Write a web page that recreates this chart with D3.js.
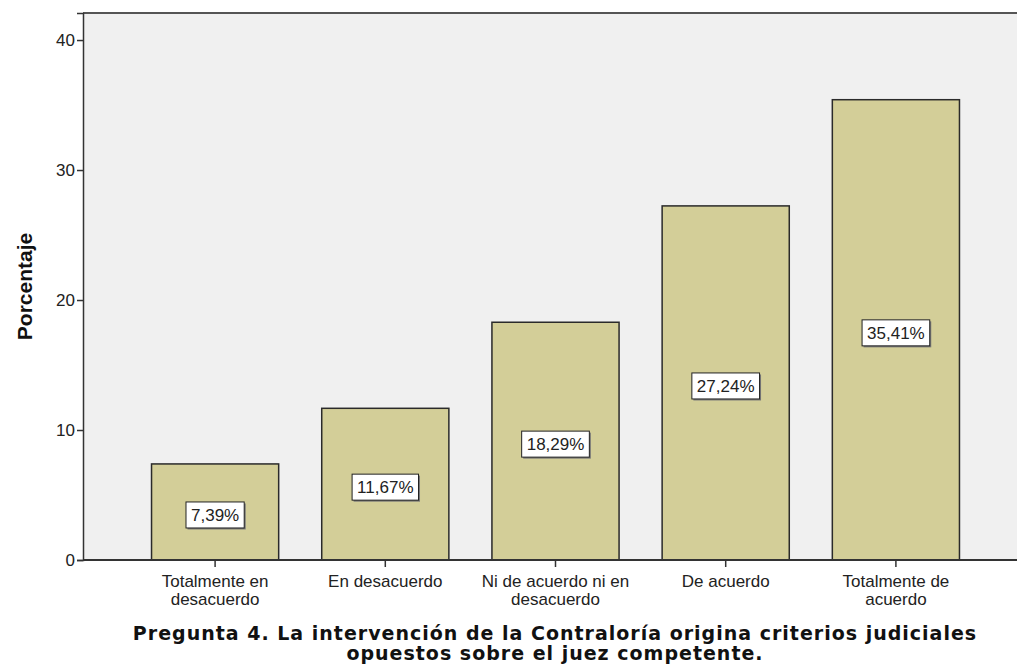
<!DOCTYPE html>
<html lang="es">
<head>
<meta charset="utf-8">
<title>Pregunta 4</title>
<script src="https://cdn.jsdelivr.net/npm/d3@7"></script>
<style>
  body { margin: 0; background: #fff; }
  .tick text { font-family: "Liberation Sans", Arial, sans-serif; font-size: 17px; fill: #222; }
</style>
</head>
<body>
<div id="chart"></div>
<script>
// datos
var categorias = [["Totalmente en", "desacuerdo"], ["En desacuerdo"], ["Ni de acuerdo ni en", "desacuerdo"], ["De acuerdo"], ["Totalmente de", "acuerdo"]];
var porcentajes = [7.39, 11.67, 18.29, 27.24, 35.41];
var etiquetas = ["7,39%", "11,67%", "18,29%", "27,24%", "35,41%"];
var yTicks = [0, 10, 20, 30, 40];
var titulo = ["Pregunta 4. La intervención de la Contraloría origina criterios judiciales", "opuestos sobre el juez competente."];

var width = 1017, height = 667;
var mLeft = 83, mRight = 1017, mTop = 13, mBottom = 560;

var svg = d3.select("#chart").append("svg")
    .attr("width", width)
    .attr("height", height);

var x = d3.scaleBand()
    .domain(d3.range(porcentajes.length))
    .range([130, 981])
    .paddingInner(0.253)
    .paddingOuter(0.1265);

var y = d3.scaleLinear()
    .domain([0, 42.08])
    .range([mBottom, mTop]);

// fondo del area
svg.append("rect")
    .attr("x", mLeft).attr("y", mTop)
    .attr("width", mRight - mLeft).attr("height", mBottom - mTop)
    .attr("fill", "#f0f0f0");

svg.append("line")
    .attr("x1", mLeft).attr("x2", mRight)
    .attr("y1", mTop).attr("y2", mTop)
    .attr("stroke", "#555").attr("stroke-width", 2);

// barras
svg.append("g").selectAll("rect")
    .data(porcentajes)
  .enter().append("rect")
    .attr("x", function(d, i) { return x(i); })
    .attr("y", function(d) { return y(d); })
    .attr("width", x.bandwidth())
    .attr("height", function(d) { return y(0) - y(d); })
    .attr("fill", "#d3ce98")
    .attr("stroke", "#2a2a2a")
    .attr("stroke-width", 1.5);

// eje y
var gy = svg.append("g")
    .attr("transform", "translate(" + mLeft + ",0)")
    .call(d3.axisLeft(y).tickValues(yTicks).tickSize(6).tickPadding(2));
gy.select(".domain").attr("stroke", "#333").attr("stroke-width", 1.5);
gy.selectAll(".tick line").attr("stroke", "#333").attr("stroke-width", 1.5);

// eje x
var gx = svg.append("g")
    .attr("transform", "translate(0," + mBottom + ")")
    .call(d3.axisBottom(x).tickSize(7).tickFormat(""));
gx.select(".domain").remove();
gx.selectAll(".tick line").attr("stroke", "#333").attr("stroke-width", 1.5);

svg.append("line")
    .attr("x1", mLeft).attr("x2", mRight)
    .attr("y1", mBottom).attr("y2", mBottom)
    .attr("stroke", "#333").attr("stroke-width", 2);

gx.selectAll(".tick").each(function(d) {
  var t = d3.select(this).append("text")
      .attr("text-anchor", "middle")
      .attr("y", 27)
      .style("font-family", "'Liberation Sans', Arial, sans-serif")
      .style("font-size", "17px")
      .attr("fill", "#222");
  categorias[d].forEach(function(line, k) {
    t.append("tspan").attr("x", 0).attr("dy", k ? 17.5 : 0).text(line);
  });
});

// etiquetas de porcentaje
var lab = svg.append("g").selectAll("g")
    .data(porcentajes)
  .enter().append("g")
    .attr("transform", function(d, i) {
      return "translate(" + (x(i) + x.bandwidth() / 2) + "," + ((y(d) + y(0)) / 2 + 3) + ")";
    });

lab.append("rect").attr("class", "sombra");
lab.append("rect").attr("class", "caja");
lab.append("text")
    .attr("text-anchor", "middle")
    .attr("dy", "0.35em")
    .style("font-family", "'Liberation Sans', Arial, sans-serif")
    .style("font-size", "17px")
    .attr("fill", "#222")
    .text(function(d, i) { return etiquetas[i]; });

lab.each(function() {
  var g = d3.select(this);
  var w = g.select("text").node().getComputedTextLength() + 10;
  g.select(".sombra")
      .attr("x", -w / 2 + 1.5).attr("y", -13 + 1.5)
      .attr("width", w).attr("height", 26)
      .attr("fill", "#777");
  g.select(".caja")
      .attr("x", -w / 2).attr("y", -13)
      .attr("width", w).attr("height", 26)
      .attr("fill", "#fff")
      .attr("stroke", "#222").attr("stroke-width", 1);
});

// titulo eje y
svg.append("text")
    .attr("transform", "translate(32," + ((mTop + mBottom) / 2) + ") rotate(-90)")
    .attr("text-anchor", "middle")
    .style("font-family", "'Liberation Sans', Arial, sans-serif")
    .style("font-size", "21px")
    .style("font-weight", "bold")
    .attr("fill", "#111")
    .text("Porcentaje");

// titulo
var tt = svg.append("text")
    .attr("text-anchor", "middle")
    .attr("x", 555)
    .attr("y", 640)
    .style("font-family", "'DejaVu Sans', Verdana, sans-serif")
    .style("font-size", "19px")
    .style("font-weight", "bold")
    .style("letter-spacing", "1px")
    .attr("fill", "#111");
titulo.forEach(function(line, k) {
  tt.append("tspan").attr("x", 555).attr("dy", k ? 20 : 0).text(line);
});
</script>
</body>
</html>
